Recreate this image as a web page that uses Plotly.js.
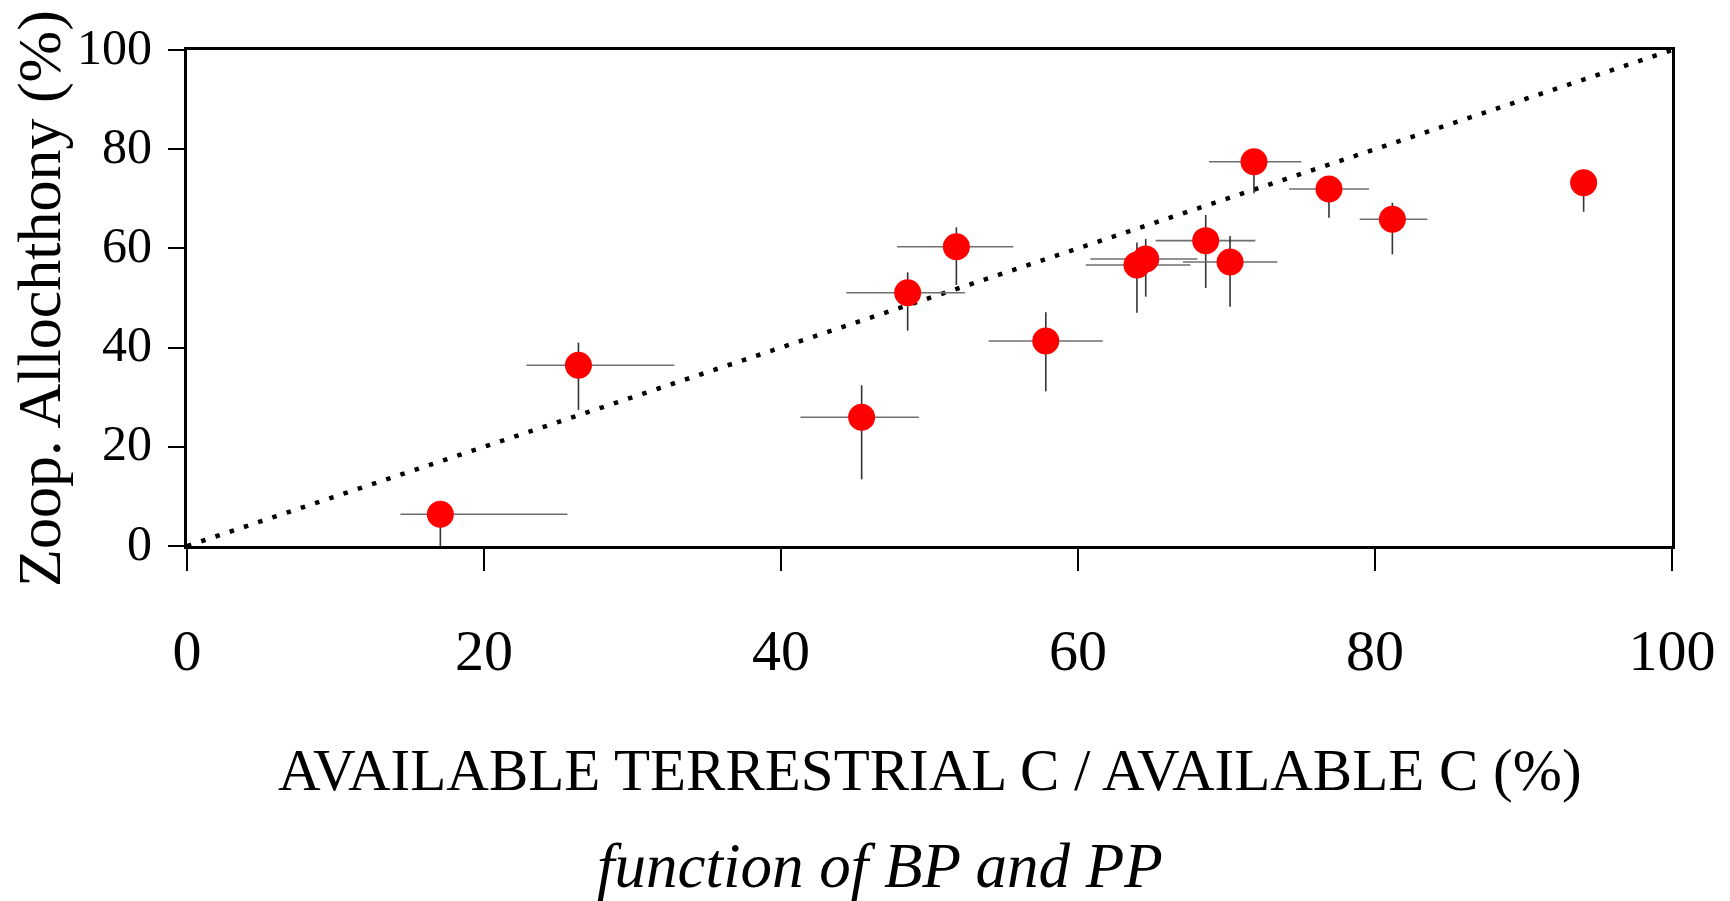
<!DOCTYPE html>
<html>
<head>
<meta charset="utf-8">
<script src="https://cdn.plot.ly/plotly-3.0.1.min.js"></script>
<style>html,body{margin:0;padding:0;background:#fff;}#chart{width:1730px;height:901px;}</style>
</head>
<body>
<div id="chart"></div>
<script>
// Available terrestrial C / available C (%) — x values
const terrestrialC = [17.06, 26.36, 45.43, 48.53, 51.81, 57.83, 63.97, 64.56, 68.60, 70.24, 71.85, 76.90, 81.17, 94.05];
// Zooplankton allochthony (%) — y values
const allochthony  = [6.39, 36.43, 25.95, 51.07, 60.34, 41.33, 56.65, 57.86, 61.56, 57.26, 77.48, 71.98, 65.87, 73.25];
// Horizontal errors (plus / minus)
const xErrPlus  = [8.56, 6.46, 3.86, 3.86, 3.84, 3.84, 3.60, 3.48, 3.34, 3.19, 3.19, 2.70, 2.36, 0.90];
const xErrMinus = [2.69, 3.50, 4.12, 4.13, 4.00, 3.84, 3.45, 3.73, 3.37, 3.17, 3.03, 2.69, 2.20, 0.90];
// Vertical errors (plus / minus)
const yErrPlus  = [0.00, 4.56, 6.45, 4.11, 3.91, 5.80, 4.55, 4.04, 5.17, 5.24, 0.00, 0.00, 3.35, 0.00];
const yErrMinus = [6.39, 9.00, 12.50, 7.66, 7.72, 10.15, 9.60, 7.59, 9.54, 9.00, 6.38, 5.79, 7.06, 5.85];
// 1:1 reference line
const oneToOneX = [0, 100];
const oneToOneY = [0, 100];
// Ticks
const tickVals = [0, 20, 40, 60, 80, 100];
const tickText = ["0", "20", "40", "60", "80", "100"];

const serif = "Liberation Serif, Times New Roman, serif";

const traces = [
  {
    x: oneToOneX, y: oneToOneY, type: "scatter", mode: "lines",
    line: {color: "#000", width: 4.5, dash: "4.5px,10.5px"},
    hoverinfo: "skip", showlegend: false
  },
  {
    x: terrestrialC, y: allochthony, type: "scatter", mode: "markers",
    marker: {color: "#ff0000", size: 27, line: {width: 0}},
    error_x: {type: "data", symmetric: false, array: xErrPlus, arrayminus: xErrMinus,
              color: "#6e6e6e", thickness: 1.6, width: 0},
    error_y: {type: "data", symmetric: false, array: yErrPlus, arrayminus: yErrMinus,
              color: "#333333", thickness: 1.6, width: 0},
    showlegend: false
  }
];

const layout = {
  width: 1730, height: 901,
  margin: {l: 187, r: 58, t: 50, b: 355},
  paper_bgcolor: "#fff", plot_bgcolor: "#fff",
  showlegend: false,
  xaxis: {
    range: [0, 100], tickvals: tickVals, ticktext: tickText,
    showgrid: false, zeroline: false,
    showline: true, linecolor: "#000", linewidth: 3, mirror: true,
    ticks: "outside", ticklen: 22, tickwidth: 2, tickcolor: "#000",
    ticklabelstandoff: 29,
    tickfont: {family: serif, size: 58, color: "#000"},
    fixedrange: true
  },
  yaxis: {
    range: [0, 100], tickvals: tickVals, ticktext: tickText,
    showgrid: false, zeroline: false,
    showline: true, linecolor: "#000", linewidth: 3, mirror: true,
    ticks: "outside", ticklen: 16, tickwidth: 2, tickcolor: "#000",
    ticklabelstandoff: 6, ticklabelshift: -4,
    tickfont: {family: serif, size: 50, color: "#000"},
    fixedrange: true
  },
  annotations: [
    {
      text: "AVAILABLE TERRESTRIAL C / AVAILABLE C (%)",
      xref: "paper", yref: "paper", x: 0.5, y: -0.4516,
      xanchor: "center", yanchor: "middle", showarrow: false,
      font: {family: serif, size: 59, color: "#000"}
    },
    {
      text: "<i>function of BP and PP</i>",
      xref: "paper", yref: "paper", x: 0.467, y: -0.646,
      xanchor: "center", yanchor: "middle", showarrow: false,
      font: {family: serif, size: 63, color: "#000"}
    },
    {
      text: "Zoop. Allochthony (%)",
      xref: "paper", yref: "paper", x: -0.0997, y: 0.5,
      xanchor: "center", yanchor: "middle", showarrow: false, textangle: -90,
      font: {family: serif, size: 62, color: "#000"}
    }
  ]
};

Plotly.newPlot("chart", traces, layout, {displayModeBar: false, staticPlot: true});
</script>
</body>
</html>
